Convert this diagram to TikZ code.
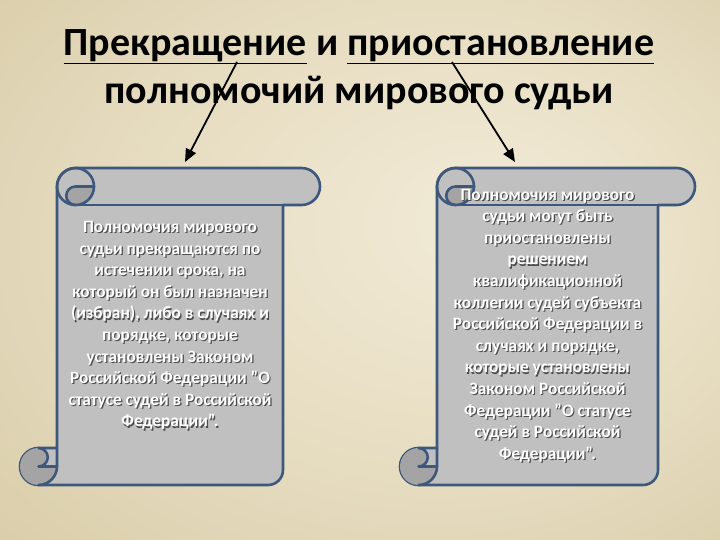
\documentclass[tikz,border=0pt]{standalone}
\usepackage{fontspec}
\setmainfont{Carlito}
\usetikzlibrary{arrows.meta, positioning}

\definecolor{bglight}{HTML}{F2EBD8}
\definecolor{bgmid}{HTML}{E6DCC0}
\definecolor{bgdark}{HTML}{D1C39B}
\definecolor{scrollfill}{HTML}{C0C0C0}
\definecolor{scrolldark}{HTML}{A4A4A4}
\definecolor{scrollline}{HTML}{3D587C}
\pgfdeclareradialshading{bgglow}{\pgfpoint{10bp}{5bp}}{%
  color(0bp)=(bglight); color(22bp)=(bgmid); color(50bp)=(bgdark)}

% white text with a dark shadow
\newcommand\emb[1]{\makebox[0pt][l]{\kern1.2pt\raisebox{-1.2pt}{\color{black!70}#1}}#1}

\begin{document}
\begin{tikzpicture}[
    x=1pt, y=-1pt,
    >={Triangle[length=13pt, width=11pt]},
    titletext/.style={font=\bfseries\fontsize{40}{48}\selectfont, align=center},
    scrolltext/.style={font=\bfseries\fontsize{17.3}{21.6}\selectfont, align=center, text=white},
    scroll/.style={fill=scrollfill, draw=scrollline, line width=2.6pt, line join=round},
    curl/.style={draw=scrollline, line width=2.6pt, line cap=round, line join=round},
    arrow/.style={->, line width=1.8pt},
]

\shade[shading=bgglow] (0,0) rectangle (720,540);
\useasboundingbox (0,0) rectangle (720,540);

\node[titletext] (title) at (359,70)
    {\underline{Прекращение} и \underline{приостановление}\\полномочий мирового судьи};

% the two scrolls
\foreach \curlL/\bodyR in {20/283, 400/658} {
  \pgfmathsetmacro\bodyL{\curlL+37}
  \pgfmathsetmacro\rollR{\bodyR+37}
  \path[scroll] (\bodyL,186.5) arc[start angle=180, end angle=270, radius=18.5]
    -- (\rollR-18.5,168) arc[start angle=270, end angle=450, radius=18.5]
    -- (\bodyR,205) -- (\bodyR,470) arc[start angle=0, end angle=90, radius=15]
    -- (\curlL+18.5,485) arc[start angle=90, end angle=270, radius=18.5]
    -- (\bodyL,448) -- cycle;
  \fill[scrolldark] (\bodyL+37,186.5) arc[start angle=0, end angle=90, radius=18.5]
    arc[start angle=90, end angle=270, radius=9.25] -- cycle;
  \fill[scrolldark] (\bodyL,466.5) arc[start angle=0, end angle=270, radius=18.5]
    arc[start angle=270, end angle=450, radius=9.25] -- cycle;
  \draw[curl] (\bodyL+18.5,186.5) circle[radius=18.5];
  \draw[curl] (\bodyL+18.5,205) arc[start angle=90, end angle=270, radius=9.25]
    -- (\bodyL+37,186.5);
  \draw[curl] (\bodyR,205) -- (\bodyL+18.5,205);
  \draw[curl] (\curlL+18.5,448) arc[start angle=270, end angle=450, radius=9.25]
    -- (\bodyL,466.5);
  \draw[curl] (\curlL+18.5,485) arc[start angle=90, end angle=0, radius=18.5]
    -- (\bodyL,448);
}

\node[scrolltext] (endText) at (170,326)
    {\emb{Полномочия мирового}\\\emb{судьи прекращаются по}\\\emb{истечении срока, на}\\
     \emb{который он был назначен}\\\emb{(избран), либо в случаях и}\\\emb{порядке, которые}\\
     \emb{установлены Законом}\\\emb{Российской Федерации "О}\\\emb{статусе судей в Российской}\\
     \emb{Федерации".}};
\node[scrolltext] (pauseText) at (547.5,326)
    {\emb{Полномочия мирового}\\\emb{судьи могут быть}\\\emb{приостановлены}\\\emb{решением}\\
     \emb{квалификационной}\\\emb{коллегии судей субъекта}\\\emb{Российской Федерации в}\\
     \emb{случаях и порядке,}\\\emb{которые установлены}\\\emb{Законом Российской}\\
     \emb{Федерации "О статусе}\\\emb{судей в Российской}\\\emb{Федерации".}};

\coordinate (fromEnd) at (237,62);
\coordinate (fromPause) at (452,62);
\coordinate (toEnd) at (185,162);
\coordinate (toPause) at (515,162);
\draw[arrow] (fromEnd) -- (toEnd);
\draw[arrow] (fromPause) -- (toPause);

\end{tikzpicture}
\end{document}
